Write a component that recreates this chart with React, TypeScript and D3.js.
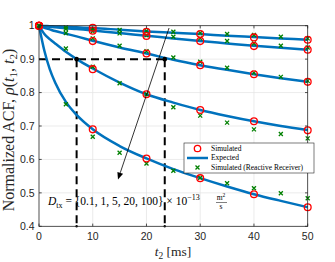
import React from 'react';
import { scaleLinear, line, curveMonotoneX } from 'd3';

// expected curves, sampled at tExp
const tExp = [0, 1, 2, 3, 5, 7, 10, 15, 20, 25, 30, 35, 40, 45, 50];
const expA = [1, 0.9993, 0.9986, 0.9979, 0.9965, 0.995, 0.993, 0.988, 0.983, 0.979, 0.975, 0.97, 0.966, 0.962, 0.958];
const expB = [1, 0.998, 0.997, 0.995, 0.992, 0.99, 0.986, 0.978, 0.97, 0.962, 0.954, 0.947, 0.94, 0.934, 0.928];
const expC = [1, 0.994, 0.989, 0.984, 0.976, 0.968, 0.955, 0.935, 0.917, 0.898, 0.882, 0.868, 0.855, 0.843, 0.832];
const expD = [1, 0.975, 0.96, 0.947, 0.922, 0.9, 0.872, 0.83, 0.795, 0.77, 0.748, 0.73, 0.714, 0.7, 0.688];
const expE = [1, 0.925, 0.87, 0.83, 0.772, 0.733, 0.69, 0.64, 0.603, 0.571, 0.544, 0.519, 0.496, 0.476, 0.457];

// simulated (red circles)
const tSim = [0, 10, 20, 30, 40, 50];
const simA = [1, 0.994, 0.982, 0.975, 0.965, 0.958];
const simB = [1, 0.985, 0.969, 0.954, 0.939, 0.928];
const simC = [1, 0.954, 0.917, 0.882, 0.855, 0.832];
const simD = [1, 0.87, 0.795, 0.748, 0.714, 0.687];
const simE = [1, 0.69, 0.603, 0.544, 0.496, 0.457];

// simulated, reactive receiver (green crosses)
const tRR = [0, 5, 10, 15, 20, 25, 30, 35, 40, 45, 50];
const rrA = [1, 0.995, 0.99, 0.987, 0.984, 0.982, 0.978, 0.975, 0.972, 0.967, 0.962];
const rrB = [1, 0.99, 0.983, 0.977, 0.971, 0.967, 0.962, 0.954, 0.947, 0.94, 0.935];
const rrC = [1, 0.978, 0.962, 0.94, 0.924, 0.905, 0.892, 0.874, 0.859, 0.847, 0.835];
const rrD = [1, 0.932, 0.877, 0.828, 0.795, 0.756, 0.731, 0.71, 0.69, 0.676, 0.663];
const rrE = [1, 0.765, 0.668, 0.62, 0.588, 0.566, 0.545, 0.529, 0.514, 0.499, 0.484];

const xTicks = [0, 10, 20, 30, 40, 50];
const yTicks = [0.4, 0.5, 0.6, 0.7, 0.8, 0.9, 1];
const yTickLabels = ['0.4', '0.5', '0.6', '0.7', '0.8', '0.9', '1'];

// dashed guides: threshold and crossing times
const rhoThr = 0.9;
const tCross = [7, 23.4];
const arrowFrom = [24.2, 0.993];
const arrowTo = [14.7, 0.54];

const expSeries = [expA, expB, expC, expD, expE];
const simSeries = [simA, simB, simC, simD, simE];
const rrSeries = [rrA, rrB, rrC, rrD, rrE];

const BLUE = '#0072BD';
const AX = '#262626';
const SERIF = '"Liberation Serif", "Times New Roman", serif';
const SANS = '"Liberation Sans", Arial, sans-serif';

const App: React.FC = () => {
  const x = scaleLinear().domain([0, 50]).range([39, 307.7]);
  const y = scaleLinear().domain([0.4, 1]).range([226.3, 25.7]);

  const lineGen = line<number>()
    .x((_, i) => x(tExp[i]))
    .y(d => y(d))
    .curve(curveMonotoneX);

  const x0 = x(0), x1 = x(50), y0 = y(0.4), y1 = y(1);

  // arrow geometry
  const ax1 = x(arrowFrom[0]), ay1 = y(arrowFrom[1]);
  const ax2 = x(arrowTo[0]), ay2 = y(arrowTo[1]);
  const ang = Math.atan2(ay2 - ay1, ax2 - ax1);
  const hl = 7, hw = 3;
  const bx = ax2 - hl * Math.cos(ang), by = ay2 - hl * Math.sin(ang);
  const head = `M${ax2},${ay2}L${bx + hw * Math.sin(ang)},${by - hw * Math.cos(ang)}L${bx - hw * Math.sin(ang)},${by + hw * Math.cos(ang)}Z`;

  const cross = (cx: number, cy: number, s: number, key: string) => (
    <path key={key} d={`M${cx - s},${cy - s}L${cx + s},${cy + s}M${cx - s},${cy + s}L${cx + s},${cy - s}`}
      stroke="#008000" strokeWidth={1.3} fill="none" />
  );

  const legX = 184, legY = 143;

  return (
    <svg width={335} height={262} style={{ position: 'absolute', left: 0, top: 0, background: '#fff' }}>
      <rect x={0} y={0} width={335} height={262} fill="#fff" />
      {/* grid */}
      {xTicks.slice(1, -1).map(t => (
        <line key={'gx' + t} x1={x(t)} x2={x(t)} y1={y0} y2={y1} stroke="#e3e3e3" strokeWidth={0.7} />
      ))}
      {yTicks.slice(1, -1).map(t => (
        <line key={'gy' + t} x1={x0} x2={x1} y1={y(t)} y2={y(t)} stroke="#e3e3e3" strokeWidth={0.7} />
      ))}

      {/* dashed guides */}
      <line x1={x0} x2={x(tCross[1])} y1={y(rhoThr)} y2={y(rhoThr)} stroke="#000" strokeWidth={2} strokeDasharray="8,5" />
      {tCross.map(t => (
        <line key={'dv' + t} x1={x(t)} x2={x(t)} y1={y(rhoThr)} y2={y0} stroke="#000" strokeWidth={2} strokeDasharray="8,5" />
      ))}

      {/* expected */}
      {expSeries.map((s, i) => (
        <path key={'e' + i} d={lineGen(s) || ''} fill="none" stroke={BLUE} strokeWidth={2.5} />
      ))}

      {/* reactive receiver */}
      {rrSeries.map((s, i) => s.map((v, j) => cross(x(tRR[j]), y(v), 2, `r${i}-${j}`)))}

      {/* simulated */}
      {simSeries.map((s, i) => s.map((v, j) => (
        <circle key={`s${i}-${j}`} cx={x(tSim[j])} cy={y(v)} r={3.4} fill="none" stroke="#ff0000" strokeWidth={1.3} />
      )))}

      {/* crossing dots */}
      {tCross.map(t => (
        <g key={'dot' + t}>
          <circle cx={x(t)} cy={y(rhoThr)} r={2.3} fill="#000" />
          <circle cx={x(t)} cy={y0} r={1.2} fill="#000" />
        </g>
      ))}

      {/* arrow */}
      <line x1={ax1} y1={ay1} x2={bx} y2={by} stroke="#000" strokeWidth={0.8} />
      <path d={head} fill="#000" />

      {/* D_tx annotation */}
      <text x={48} y={205} fontFamily={SERIF} fontSize={11.5} fill="#000">
        <tspan fontStyle="italic">D</tspan>
        <tspan fontSize={8} dy={3}>tx</tspan>
        <tspan dy={-3}>{' = {0.1, 1, 5, 20, 100} × 10'}</tspan>
        <tspan fontSize={8} dy={-5}>−13</tspan>
      </text>
      <text x={221} y={200} fontFamily={SERIF} fontSize={7.5} textAnchor="middle">m<tspan fontSize={5.5} dy={-3}>2</tspan></text>
      <line x1={216} x2={227} y1={202.5} y2={202.5} stroke="#000" strokeWidth={0.5} />
      <text x={221} y={209} fontFamily={SERIF} fontSize={7.5} textAnchor="middle">s</text>

      {/* axes box */}
      <rect x={x0} y={y1} width={x1 - x0} height={y0 - y1} fill="none" stroke={AX} strokeWidth={0.8} />
      {xTicks.map(t => (
        <g key={'xt' + t}>
          <line x1={x(t)} x2={x(t)} y1={y0} y2={y0 - 2.7} stroke={AX} strokeWidth={0.8} />
          <line x1={x(t)} x2={x(t)} y1={y1} y2={y1 + 2.7} stroke={AX} strokeWidth={0.8} />
          <text x={x(t)} y={239.5} textAnchor="middle" fontFamily={SANS} fontSize={10.5} fill={AX}>{t}</text>
        </g>
      ))}
      {yTicks.map((t, i) => (
        <g key={'yt' + t}>
          <line x1={x0} x2={x0 + 2.7} y1={y(t)} y2={y(t)} stroke={AX} strokeWidth={0.8} />
          <line x1={x1} x2={x1 - 2.7} y1={y(t)} y2={y(t)} stroke={AX} strokeWidth={0.8} />
          <text x={34.5} y={y(t) + 3.7} textAnchor="end" fontFamily={SANS} fontSize={10.5} fill={AX}>{yTickLabels[i]}</text>
        </g>
      ))}

      {/* axis labels */}
      <text x={173} y={256} textAnchor="middle" fontFamily={SERIF} fontSize={13.5} fill={AX}>
        <tspan fontStyle="italic">t</tspan>
        <tspan fontSize={9.5} dy={3}>2</tspan>
        <tspan dy={-3}>{'  [ms]'}</tspan>
      </text>
      <text transform={`translate(13.5,${(y0 + y1) / 2 + 4}) rotate(-90)`} textAnchor="middle" fontFamily={SERIF} fontSize={16} fill={AX}>
        Normalized ACF,
        <tspan fontStyle="italic">{' ρ'}</tspan>
        <tspan>(</tspan>
        <tspan fontStyle="italic">t</tspan>
        <tspan fontSize={11} dy={3}>1</tspan>
        <tspan dy={-3}>, </tspan>
        <tspan fontStyle="italic">t</tspan>
        <tspan fontSize={11} dy={3}>2</tspan>
        <tspan dy={-3}>)</tspan>
      </text>

      {/* legend */}
      <rect x={legX} y={legY} width={130} height={30} fill="#fff" stroke={AX} strokeWidth={0.6} />
      <circle cx={197.5} cy={148.5} r={3.2} fill="none" stroke="#ff0000" strokeWidth={1.3} />
      <text x={211} y={150.8} fontFamily={SERIF} fontSize={7.5} fill="#000">Simulated</text>
      <line x1={187} x2={208} y1={158} y2={158} stroke={BLUE} strokeWidth={2.5} />
      <text x={211} y={160.3} fontFamily={SERIF} fontSize={7.5} fill="#000">Expected</text>
      {cross(197.5, 167.5, 2, 'leg')}
      <text x={211} y={169.8} fontFamily={SERIF} fontSize={7.5} fill="#000">Simulated (Reactive Receiver)</text>
    </svg>
  );
};

export default App;
